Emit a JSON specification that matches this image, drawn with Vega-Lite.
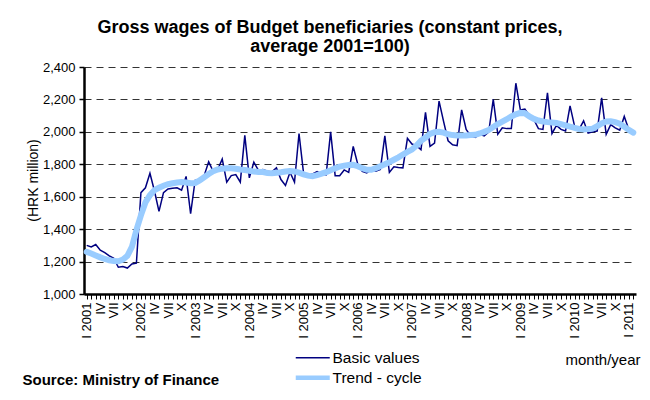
{
  "$schema": "https://vega.github.io/schema/vega-lite/v6.json",
  "autosize": "none",
  "width": 552,
  "height": 227,
  "padding": {"left": 84, "top": 67, "right": 14, "bottom": 106},
  "background": "white",
  "config": {
    "font": "Liberation Sans",
    "view": {"stroke": null},
    "axis": {"labelColor": "black", "titleColor": "black", "labelFont": "Liberation Sans", "titleFont": "Liberation Sans"},
    "axisY": {
      "labelFontSize": 13,
      "labelPadding": 4,
      "labelOverlap": false,
      "titleFontSize": 14,
      "titleFontWeight": "normal",
      "titleX": -44,
      "titleY": 113,
      "titleAnchor": "middle",
      "domainColor": "black",
      "domainWidth": 2.5,
      "tickColor": "black",
      "tickSize": 5,
      "tickWidth": 1.5,
      "grid": true,
      "gridColor": "#333333",
      "gridDash": [7, 5],
      "gridWidth": 1
    }
  },
  "title": {
    "text": ["Gross wages of Budget beneficiaries (constant prices,", "average 2001=100)"],
    "fontSize": 18,
    "fontWeight": "bold",
    "font": "Liberation Sans",
    "color": "black",
    "anchor": "middle",
    "dx": -30,
    "offset": 5,
    "lineHeight": 19.5
  },
  "data": {
    "values": [
      {"month": "2001-01", "basic": 1300, "trend": 1260},
      {"month": "2001-02", "basic": 1290, "trend": 1250},
      {"month": "2001-03", "basic": 1305, "trend": 1238},
      {"month": "2001-04", "basic": 1270, "trend": 1226},
      {"month": "2001-05", "basic": 1255, "trend": 1216},
      {"month": "2001-06", "basic": 1235, "trend": 1208},
      {"month": "2001-07", "basic": 1220, "trend": 1203},
      {"month": "2001-08", "basic": 1165, "trend": 1202},
      {"month": "2001-09", "basic": 1170, "trend": 1212},
      {"month": "2001-10", "basic": 1160, "trend": 1235},
      {"month": "2001-11", "basic": 1185, "trend": 1290},
      {"month": "2001-12", "basic": 1190, "trend": 1395},
      {"month": "2002-01", "basic": 1625, "trend": 1485},
      {"month": "2002-02", "basic": 1655, "trend": 1565},
      {"month": "2002-03", "basic": 1745, "trend": 1610},
      {"month": "2002-04", "basic": 1635, "trend": 1640},
      {"month": "2002-05", "basic": 1510, "trend": 1655},
      {"month": "2002-06", "basic": 1625, "trend": 1668},
      {"month": "2002-07", "basic": 1648, "trend": 1677},
      {"month": "2002-08", "basic": 1652, "trend": 1683},
      {"month": "2002-09", "basic": 1655, "trend": 1688},
      {"month": "2002-10", "basic": 1640, "trend": 1690},
      {"month": "2002-11", "basic": 1725, "trend": 1688},
      {"month": "2002-12", "basic": 1495, "trend": 1683},
      {"month": "2003-01", "basic": 1700, "trend": 1685},
      {"month": "2003-02", "basic": 1705, "trend": 1700},
      {"month": "2003-03", "basic": 1730, "trend": 1720},
      {"month": "2003-04", "basic": 1815, "trend": 1740},
      {"month": "2003-05", "basic": 1757, "trend": 1757},
      {"month": "2003-06", "basic": 1768, "trend": 1768},
      {"month": "2003-07", "basic": 1832, "trend": 1773},
      {"month": "2003-08", "basic": 1690, "trend": 1775},
      {"month": "2003-09", "basic": 1730, "trend": 1775},
      {"month": "2003-10", "basic": 1737, "trend": 1772},
      {"month": "2003-11", "basic": 1690, "trend": 1768},
      {"month": "2003-12", "basic": 1978, "trend": 1765},
      {"month": "2004-01", "basic": 1716, "trend": 1760},
      {"month": "2004-02", "basic": 1813, "trend": 1755},
      {"month": "2004-03", "basic": 1764, "trend": 1753},
      {"month": "2004-04", "basic": 1768, "trend": 1752},
      {"month": "2004-05", "basic": 1757, "trend": 1746},
      {"month": "2004-06", "basic": 1753, "trend": 1745},
      {"month": "2004-07", "basic": 1778, "trend": 1748},
      {"month": "2004-08", "basic": 1706, "trend": 1751},
      {"month": "2004-09", "basic": 1669, "trend": 1755},
      {"month": "2004-10", "basic": 1751, "trend": 1758},
      {"month": "2004-11", "basic": 1690, "trend": 1756},
      {"month": "2004-12", "basic": 1990, "trend": 1748},
      {"month": "2005-01", "basic": 1745, "trend": 1738},
      {"month": "2005-02", "basic": 1740, "trend": 1730},
      {"month": "2005-03", "basic": 1740, "trend": 1727},
      {"month": "2005-04", "basic": 1755, "trend": 1733},
      {"month": "2005-05", "basic": 1740, "trend": 1742},
      {"month": "2005-06", "basic": 1735, "trend": 1752},
      {"month": "2005-07", "basic": 2000, "trend": 1763},
      {"month": "2005-08", "basic": 1730, "trend": 1775},
      {"month": "2005-09", "basic": 1730, "trend": 1786},
      {"month": "2005-10", "basic": 1765, "trend": 1792},
      {"month": "2005-11", "basic": 1750, "trend": 1796},
      {"month": "2005-12", "basic": 1910, "trend": 1797},
      {"month": "2006-01", "basic": 1800, "trend": 1788},
      {"month": "2006-02", "basic": 1757, "trend": 1776},
      {"month": "2006-03", "basic": 1747, "trend": 1766},
      {"month": "2006-04", "basic": 1768, "trend": 1766},
      {"month": "2006-05", "basic": 1757, "trend": 1776},
      {"month": "2006-06", "basic": 1768, "trend": 1788},
      {"month": "2006-07", "basic": 1975, "trend": 1800},
      {"month": "2006-08", "basic": 1750, "trend": 1813},
      {"month": "2006-09", "basic": 1785, "trend": 1828},
      {"month": "2006-10", "basic": 1780, "trend": 1843},
      {"month": "2006-11", "basic": 1778, "trend": 1860},
      {"month": "2006-12", "basic": 1960, "trend": 1876},
      {"month": "2007-01", "basic": 1925, "trend": 1891},
      {"month": "2007-02", "basic": 1915, "trend": 1915},
      {"month": "2007-03", "basic": 1890, "trend": 1945},
      {"month": "2007-04", "basic": 2120, "trend": 1965},
      {"month": "2007-05", "basic": 1910, "trend": 1988},
      {"month": "2007-06", "basic": 1930, "trend": 1998},
      {"month": "2007-07", "basic": 2190, "trend": 2001},
      {"month": "2007-08", "basic": 2065, "trend": 1995},
      {"month": "2007-09", "basic": 1945, "trend": 1985},
      {"month": "2007-10", "basic": 1920, "trend": 1980},
      {"month": "2007-11", "basic": 1915, "trend": 1978},
      {"month": "2007-12", "basic": 2135, "trend": 1978},
      {"month": "2008-01", "basic": 2015, "trend": 1978},
      {"month": "2008-02", "basic": 1975, "trend": 1980},
      {"month": "2008-03", "basic": 1965, "trend": 1982},
      {"month": "2008-04", "basic": 1985, "trend": 1990},
      {"month": "2008-05", "basic": 1975, "trend": 2000},
      {"month": "2008-06", "basic": 2000, "trend": 2012},
      {"month": "2008-07", "basic": 2200, "trend": 2030},
      {"month": "2008-08", "basic": 1985, "trend": 2048},
      {"month": "2008-09", "basic": 2025, "trend": 2063},
      {"month": "2008-10", "basic": 2020, "trend": 2078},
      {"month": "2008-11", "basic": 2020, "trend": 2095},
      {"month": "2008-12", "basic": 2300, "trend": 2108},
      {"month": "2009-01", "basic": 2135, "trend": 2117},
      {"month": "2009-02", "basic": 2140, "trend": 2115},
      {"month": "2009-03", "basic": 2100, "trend": 2095},
      {"month": "2009-04", "basic": 2075, "trend": 2080},
      {"month": "2009-05", "basic": 2020, "trend": 2070},
      {"month": "2009-06", "basic": 2015, "trend": 2064},
      {"month": "2009-07", "basic": 2240, "trend": 2060},
      {"month": "2009-08", "basic": 1990, "trend": 2058},
      {"month": "2009-09", "basic": 2040, "trend": 2055},
      {"month": "2009-10", "basic": 2015, "trend": 2048},
      {"month": "2009-11", "basic": 2005, "trend": 2040},
      {"month": "2009-12", "basic": 2160, "trend": 2032},
      {"month": "2010-01", "basic": 2035, "trend": 2025},
      {"month": "2010-02", "basic": 2015, "trend": 2018},
      {"month": "2010-03", "basic": 2068, "trend": 2015},
      {"month": "2010-04", "basic": 1992, "trend": 2017},
      {"month": "2010-05", "basic": 2000, "trend": 2020},
      {"month": "2010-06", "basic": 2005, "trend": 2035},
      {"month": "2010-07", "basic": 2210, "trend": 2052},
      {"month": "2010-08", "basic": 1985, "trend": 2064},
      {"month": "2010-09", "basic": 2045, "trend": 2065},
      {"month": "2010-10", "basic": 2025, "trend": 2060},
      {"month": "2010-11", "basic": 2010, "trend": 2050},
      {"month": "2010-12", "basic": 2095, "trend": 2032},
      {"month": "2011-01", "basic": 2015, "trend": 2012},
      {"month": "2011-02", "basic": 1995, "trend": 1995}
    ]
  },
  "layer": [
    {
      "mark": {"type": "line", "strokeWidth": 1.5},
      "encoding": {
        "x": {
          "field": "month",
          "type": "ordinal",
          "scale": {"type": "point", "padding": 0.6},
          "axis": {
            "orient": "bottom",
            "title": "month/year",
            "titleFontSize": 15,
            "titleFontWeight": "normal",
            "titleX": 556,
            "titleY": 70,
            "titleAlign": "right",
            "titleBaseline": "alphabetic",
            "titleAngle": 0,
            "labelAngle": -90,
            "labelFontSize": 13,
            "labelOverlap": false,
            "labelFlush": false,
            "labelPadding": 3,
            "labelExpr": "substring(datum.value,5,7)=='01' ? 'I ' + substring(datum.value,0,4) : substring(datum.value,5,7)=='04' ? 'IV' : substring(datum.value,5,7)=='07' ? 'VII' : substring(datum.value,5,7)=='10' ? 'X' : ''",
            "domainColor": "black",
            "domainWidth": 2.5,
            "tickColor": "black",
            "tickSize": 5,
            "tickWidth": 1,
            "grid": false
          }
        },
        "y": {
          "field": "basic",
          "type": "quantitative",
          "title": "(HRK million)",
          "scale": {"domain": [1000, 2400], "nice": false, "zero": false},
          "axis": {
            "values": [1000, 1200, 1400, 1600, 1800, 2000, 2200, 2400],
            "format": ",d"
          }
        },
        "color": {
          "datum": "Basic values",
          "scale": {"domain": ["Basic values", "Trend - cycle"], "range": ["#000080", "#99ccff"]},
          "legend": {
            "title": null,
            "orient": "none",
            "legendX": 221,
            "legendY": 283,
            "direction": "vertical",
            "symbolType": "stroke",
            "symbolSize": 1156,
            "labelFontSize": 15.5,
            "labelColor": "black",
            "labelFont": "Liberation Sans",
            "labelOffset": 12,
            "rowPadding": 1,
            "padding": 0,
            "encode": {
              "symbols": {"update": {"strokeWidth": {"signal": "datum.value === 'Trend - cycle' ? 4.5 : 1.5"}}}
            }
          }
        }
      }
    },
    {
      "mark": {"type": "line", "strokeWidth": 6, "strokeCap": "round"},
      "encoding": {
        "x": {
          "field": "month",
          "type": "ordinal",
          "axis": {
            "orient": "bottom",
            "title": "Source: Ministry of Finance",
            "titleFontSize": 15,
            "titleFontWeight": "bold",
            "titleX": -62,
            "titleY": 90,
            "titleAlign": "left",
            "titleBaseline": "alphabetic",
            "titleAngle": 0,
            "labels": false,
            "ticks": false,
            "domain": false,
            "grid": false
          }
        },
        "y": {
          "field": "trend",
          "type": "quantitative",
          "title": "(HRK million)",
          "axis": {
            "values": [1000, 1200, 1400, 1600, 1800, 2000, 2200, 2400],
            "format": ",d"
          }
        },
        "color": {"datum": "Trend - cycle"}
      }
    }
  ],
  "resolve": {"axis": {"x": "independent"}}
}
